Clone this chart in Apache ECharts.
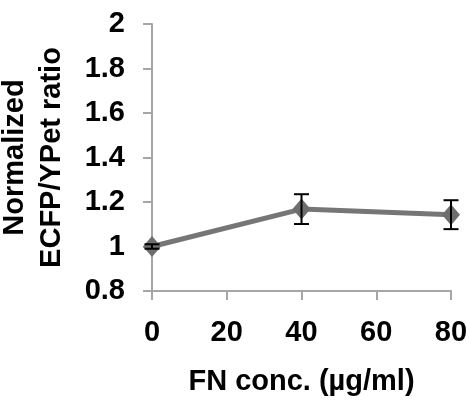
<!DOCTYPE html>
<html>
<head>
<meta charset="utf-8">
<script src="https://cdn.jsdelivr.net/npm/echarts@6/dist/echarts.min.js"></script>
<style>
  html, body { margin: 0; padding: 0; background: #fff; }
  #chart { width: 469px; height: 405px; }
</style>
</head>
<body>
<div id="chart"></div>
<script>
// FN concentration (µg/ml) and normalized ECFP/YPet ratio with error
const concentrations = [0, 40, 80];
const ratios = [1.0, 1.168, 1.143];
const errors = [0.01, 0.067, 0.065];
const xTicks = [0, 20, 40, 60, 80];
const yTicks = [0.8, 1, 1.2, 1.4, 1.6, 1.8, 2];

const font = 'Liberation Sans, Arial, sans-serif';
const fontSize = 29;
const chart = echarts.init(document.getElementById('chart'));

const points = concentrations.map((c, i) => [c, ratios[i]]);
const errData = concentrations.map((c, i) => [c, ratios[i] - errors[i], ratios[i] + errors[i]]);

chart.setOption({
  animation: false,
  grid: { left: 152, right: 18, top: 24, bottom: 114, containLabel: false, outerBoundsMode: 'none' },
  xAxis: {
    type: 'value',
    min: xTicks[0],
    max: xTicks[xTicks.length - 1],
    interval: xTicks[1] - xTicks[0],
    name: 'FN conc. (µg/ml)',
    nameLocation: 'middle',
    nameGap: 76,
    nameTextStyle: { fontFamily: font, fontWeight: 'bold', fontSize: fontSize, color: '#000' },
    axisLine: { lineStyle: { color: '#a6a6a6', width: 2 } },
    axisTick: { length: 9, lineStyle: { color: '#a6a6a6', width: 2 } },
    axisLabel: { margin: 27, fontFamily: font, fontWeight: 'bold', fontSize: fontSize, color: '#000' },
    splitLine: { show: false }
  },
  yAxis: {
    type: 'value',
    min: yTicks[0],
    max: yTicks[yTicks.length - 1],
    interval: 0.2,
    name: 'Normalized\nECFP/YPet ratio',
    nameLocation: 'middle',
    nameGap: 82,
    nameTextStyle: { fontFamily: font, fontWeight: 'bold', fontSize: fontSize, color: '#000', lineHeight: 37, align: 'center' },
    axisLine: { show: true, lineStyle: { color: '#a6a6a6', width: 2 } },
    axisTick: { show: true, length: 9, lineStyle: { color: '#a6a6a6', width: 2 } },
    axisLabel: {
      margin: 27, fontFamily: font, fontWeight: 'bold', fontSize: fontSize, color: '#000',
      formatter: v => String(parseFloat(v.toFixed(1)))
    },
    splitLine: { show: false }
  },
  series: [
    {
      type: 'line',
      data: points,
      symbol: 'diamond',
      symbolSize: [18, 21],
      lineStyle: { color: '#767676', width: 5 },
      itemStyle: { color: '#6e6e6e' },
      z: 2
    },
    {
      type: 'custom',
      data: errData,
      z: 3,
      renderItem: (params, api) => {
        const x = api.value(0);
        const lo = api.coord([x, api.value(1)]);
        const hi = api.coord([x, api.value(2)]);
        const half = 7.5;
        const style = { stroke: '#000', lineWidth: 2 };
        return {
          type: 'group',
          children: [
            { type: 'line', shape: { x1: lo[0], y1: lo[1], x2: hi[0], y2: hi[1] }, style },
            { type: 'line', shape: { x1: hi[0] - half, y1: hi[1], x2: hi[0] + half, y2: hi[1] }, style },
            { type: 'line', shape: { x1: lo[0] - half, y1: lo[1], x2: lo[0] + half, y2: lo[1] }, style }
          ]
        };
      }
    }
  ]
});
</script>
</body>
</html>
